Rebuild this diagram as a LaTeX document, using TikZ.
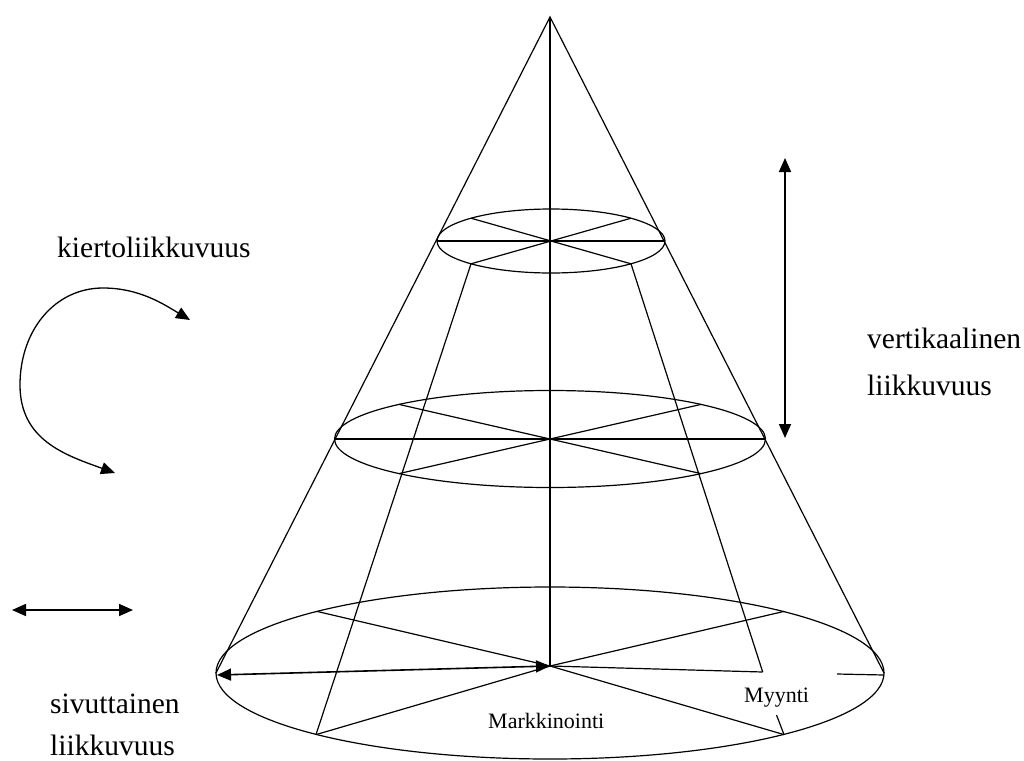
\documentclass[tikz,border=0pt]{standalone}
\usepackage{fontspec}
\setmainfont{Liberation Serif}
\usetikzlibrary{arrows.meta}
\tikzset{
  ln/.style={line width=1.2pt, black},
  dbl/.style={line width=1.6pt, black, {Triangle[length=14pt,width=12pt]}-{Triangle[length=14pt,width=12pt]}},
  big/.style={inner sep=0pt, anchor=base west, font=\fontsize{29.5}{35}\selectfont},
  small/.style={inner sep=0pt, anchor=base west, font=\fontsize{22}{26}\selectfont},
}
\begin{document}
\begin{tikzpicture}[x=1pt,y=-1pt]
\useasboundingbox[fill=white] (0,0) rectangle (1024,760);
% key points
\coordinate (apex) at (550,17);
\coordinate (C) at (550,666);
\coordinate (BL) at (216,673);
\coordinate (BR) at (884,673);
% top ellipse
\draw[ln] (551,241) ellipse [x radius=114pt, y radius=32pt];
\coordinate (t1) at (471,218.2);
\coordinate (t2) at (631,218.2);
\coordinate (t3) at (471,263.8);
\coordinate (t4) at (631,263.8);
\draw[ln] (437,241) -- (665,241);
\draw[ln] (t1) -- (t4);
\draw[ln] (t3) -- (t2);
% middle ellipse
\draw[ln] (550,439) ellipse [x radius=215.5pt, y radius=48.5pt];
\draw[ln] (334.5,439) -- (765.5,439);
\draw[ln] (399,404.4) -- (701,473.6);
\draw[ln] (399,473.6) -- (701,404.4);
% bottom ellipse
\draw[ln] (550,673) ellipse [x radius=334pt, y radius=86pt];
\coordinate (b1) at (317,611.4);
\coordinate (b2) at (784,611.4);
\coordinate (b3) at (316,734.6);
\coordinate (b4) at (784,734.6);
\draw[ln] (b1) -- (C) -- (b4);
\draw[ln] (b3) -- (C) -- (b2);
% cone edges and axis
\draw[ln] (BL) -- (apex) -- (BR);
\draw[ln] (apex) -- (C);
% inner lines
\draw[ln] (t3) -- (b3);
\coordinate (r1) at (762.7,672);
\coordinate (r2) at (776.5,715);
\draw[ln] (t4) -- (r1);
\draw[ln] (r2) -- (b4);
% horizontal at bottom
\draw[dbl] (217,675) -- (C);
\draw[ln] (C) -- (r1);
\draw[ln] (837,674) -- (884,675);
% labels in cone
\node[small] (mark) at (488,728) {Markkinointi};
\node[small] (myy) at (744,702) {Myynti};
% vertical mobility arrow
\coordinate (va1) at (785,158);
\coordinate (va2) at (785,438);
\draw[dbl] (va1) -- (va2);
\node[big] (vert1) at (867,348) {vertikaalinen};
\node[big] (vert2) at (867,395) {liikkuvuus};
% rotational arrow
\node[big] (kier) at (57,257) {kiertoliikkuvuus};
\coordinate (ru) at (190,320);
\coordinate (rl) at (115,473);
\draw[dbl, line width=1.3pt] (ru) .. controls (165,305) and (140,288) .. (103,288)
   .. controls (55,288) and (20,330) .. (20,385)
   .. controls (20,440) and (65,455) .. (rl);
% lateral arrow
\coordinate (la1) at (12,610);
\coordinate (la2) at (133,610);
\draw[dbl] (la1) -- (la2);
\node[big] (siv1) at (50,713) {sivuttainen};
\node[big] (siv2) at (50,755) {liikkuvuus};
\end{tikzpicture}
\end{document}
